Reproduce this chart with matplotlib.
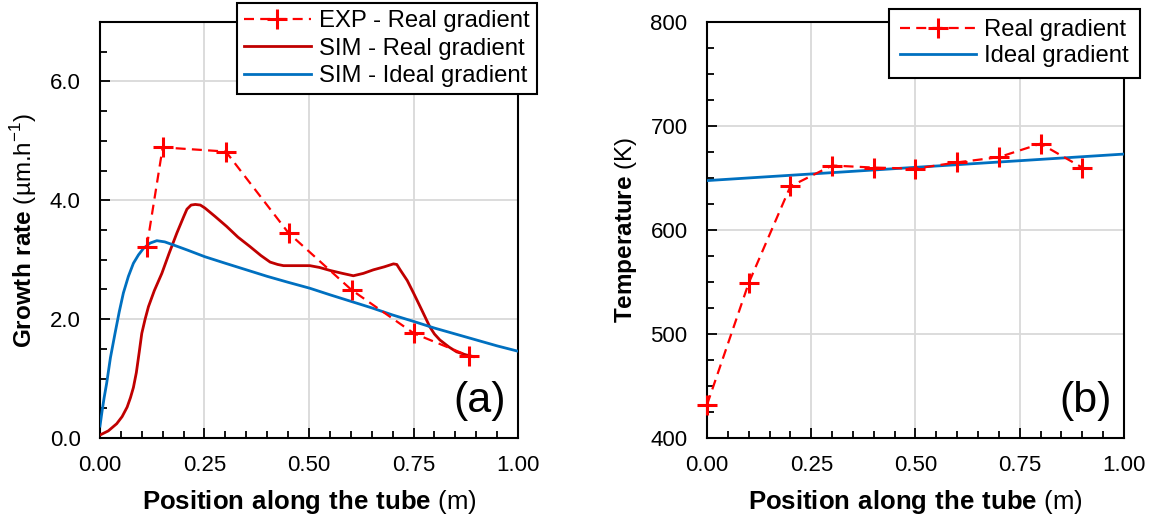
import matplotlib
matplotlib.use("Agg")
import matplotlib.pyplot as plt
from matplotlib.ticker import MultipleLocator, FormatStrFormatter

plt.rcParams['font.family'] = ['Liberation Sans', 'DejaVu Sans']
plt.rcParams['mathtext.fontset'] = 'custom'
plt.rcParams['mathtext.rm'] = 'Liberation Sans'
plt.rcParams['mathtext.bf'] = 'Liberation Sans:bold'

# panel (a): growth rate
exp_x = [0.112, 0.150, 0.301, 0.451, 0.602, 0.751, 0.883]
exp_rate = [3.22, 4.89, 4.82, 3.45, 2.49, 1.76, 1.38]

sim_real_x = [0.0, 0.02, 0.04, 0.053, 0.065, 0.073, 0.08, 0.087, 0.094, 0.10, 0.108, 0.116,
              0.13, 0.148, 0.165, 0.184, 0.20, 0.208, 0.218, 0.228, 0.24, 0.251, 0.275,
              0.303, 0.33, 0.359, 0.385, 0.407, 0.425, 0.439, 0.47, 0.502, 0.525, 0.55,
              0.58, 0.606, 0.63, 0.654, 0.68, 0.702, 0.71, 0.718, 0.735, 0.75, 0.77,
              0.789, 0.80, 0.813, 0.835, 0.853, 0.875, 0.893]
sim_real_rate = [0.05, 0.12, 0.24, 0.36, 0.52, 0.68, 0.85, 1.1, 1.45, 1.76, 2.0, 2.21,
                 2.48, 2.77, 3.1, 3.45, 3.72, 3.85, 3.92, 3.93, 3.92, 3.87, 3.73,
                 3.56, 3.38, 3.22, 3.07, 2.96, 2.92, 2.90, 2.90, 2.90, 2.87, 2.82,
                 2.77, 2.73, 2.77, 2.83, 2.88, 2.93, 2.92, 2.83, 2.65, 2.44, 2.15,
                 1.87, 1.75, 1.65, 1.53, 1.45, 1.40, 1.37]

sim_ideal_x = [0.0, 0.005, 0.01, 0.016, 0.025, 0.036, 0.046, 0.056, 0.068, 0.08, 0.092,
               0.104, 0.12, 0.136, 0.155, 0.175, 0.21, 0.251, 0.30, 0.35, 0.40, 0.45,
               0.502, 0.55, 0.60, 0.65, 0.70, 0.751, 0.80, 0.85, 0.90, 0.95, 1.0]
sim_ideal_rate = [0.2, 0.45, 0.68, 0.92, 1.35, 1.76, 2.12, 2.44, 2.72, 2.94, 3.08,
                  3.19, 3.28, 3.32, 3.30, 3.25, 3.16, 3.05, 2.94, 2.83, 2.72, 2.62,
                  2.52, 2.41, 2.30, 2.19, 2.07, 1.96, 1.85, 1.75, 1.65, 1.55, 1.46]

# panel (b): temperature
temp_x = [0.0, 0.1, 0.2, 0.3, 0.4, 0.5, 0.6, 0.7, 0.8, 0.9]
temp_real = [432, 549, 642, 662, 660, 659, 665, 670, 683, 660]
ideal_x = [0.0, 1.0]
temp_ideal = [647.5, 673]

red = '#FF0000'
dark_red = '#C00000'
blue = '#0070C0'

fig = plt.figure(figsize=(11.53, 5.21), dpi=100)
ax1 = fig.add_axes([0.0867, 0.1593, 0.3626, 0.7985])
ax2 = fig.add_axes([0.6132, 0.1593, 0.3616, 0.7985])


def style_axes(ax):
    ax.grid(True, which='major', color='#D9D9D9', linewidth=1.3, zorder=0)
    ax.set_axisbelow(True)
    for s in ax.spines.values():
        s.set_linewidth(1.5)
        s.set_color('black')
    ax.tick_params(which='both', direction='in', top=False, right=False,
                   labelsize=16, width=1.3)
    ax.tick_params(which='major', length=7)
    ax.tick_params(which='minor', length=5)
    ax.tick_params(axis='x', pad=12)
    ax.tick_params(axis='y', pad=14)
    ax.set_xlim(0, 1)
    ax.xaxis.set_major_locator(MultipleLocator(0.25))
    ax.xaxis.set_minor_locator(MultipleLocator(0.05))
    ax.xaxis.set_major_formatter(FormatStrFormatter('%.2f'))
    ax.set_xlabel(r'$\mathbf{Position\ along\ the\ tube}$ (m)', fontsize=18.5, labelpad=9)


def style_legend(leg):
    leg.get_frame().set_linewidth(1.5)
    leg.set_zorder(10)


# (a)
style_axes(ax1)
ax1.plot(exp_x, exp_rate, color=red, linestyle=(0, (4.5, 2.8)), linewidth=1.6,
         marker='+', markersize=15, markeredgewidth=2.2, label='EXP - Real gradient', zorder=4)
ax1.plot(sim_real_x, sim_real_rate, color=dark_red, linewidth=2, label='SIM - Real gradient', zorder=3)
ax1.plot(sim_ideal_x, sim_ideal_rate, color=blue, linewidth=2, label='SIM - Ideal gradient', zorder=3)
ax1.set_ylim(0, 7)
ax1.yaxis.set_major_locator(MultipleLocator(2))
ax1.yaxis.set_minor_locator(MultipleLocator(0.5))
ax1.yaxis.set_major_formatter(FormatStrFormatter('%.1f'))
ax1.set_ylabel(r'$\mathbf{Growth\ rate}$ (µm.h$^{-1}$)', fontsize=17.5, labelpad=8)
ax1.text(0.97, 0.04, '(a)', transform=ax1.transAxes, ha='right', va='bottom', fontsize=31)
leg1 = ax1.legend(loc='upper right', bbox_to_anchor=(1.045, 1.045), fontsize=17.2,
                  frameon=True, fancybox=False, edgecolor='black', framealpha=1,
                  handlelength=2.8, handletextpad=0.35, borderpad=0.3, labelspacing=0.22,
                  borderaxespad=0)
style_legend(leg1)

# (b)
style_axes(ax2)
ax2.plot(temp_x, temp_real, color=red, linestyle=(0, (4.5, 2.8)), linewidth=1.6,
         marker='+', markersize=15, markeredgewidth=2.2, label='Real gradient', zorder=4,
         clip_on=False)
ax2.plot(ideal_x, temp_ideal, color=blue, linewidth=2, label='Ideal gradient', zorder=3)
ax2.set_ylim(400, 800)
ax2.yaxis.set_major_locator(MultipleLocator(100))
ax2.yaxis.set_minor_locator(MultipleLocator(25))
ax2.set_ylabel(r'$\mathbf{Temperature}$ (K)', fontsize=17.5, labelpad=8)
ax2.text(0.97, 0.04, '(b)', transform=ax2.transAxes, ha='right', va='bottom', fontsize=31)
leg2 = ax2.legend(loc='upper right', bbox_to_anchor=(1.038, 1.032), fontsize=17.2,
                  frameon=True, fancybox=False, edgecolor='black', framealpha=1,
                  handlelength=3.2, handletextpad=0.35, borderpad=0.45, labelspacing=0.15,
                  borderaxespad=0)
style_legend(leg2)

fig.savefig('out.png', dpi=100)
